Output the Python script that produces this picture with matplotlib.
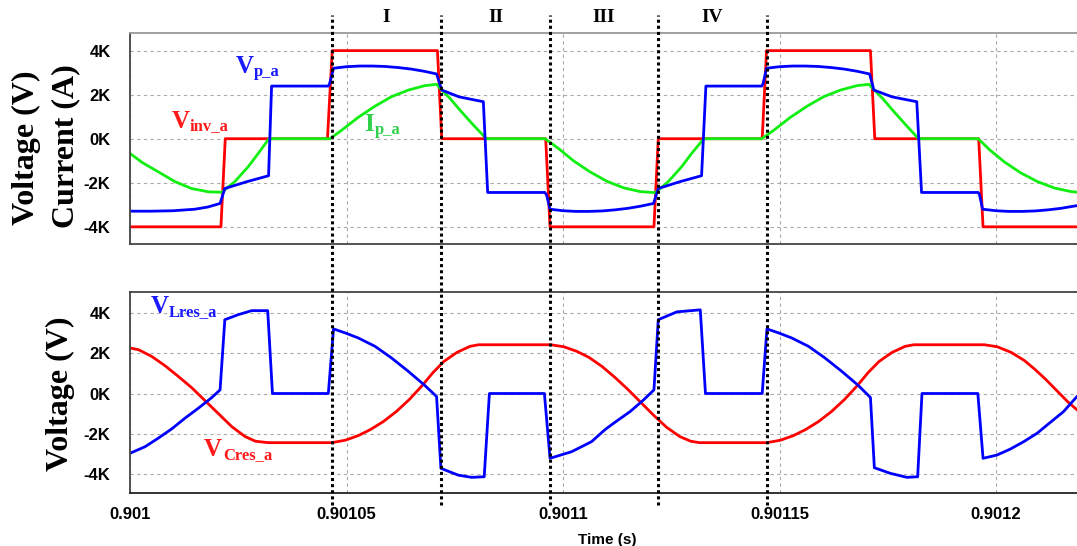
import numpy as np
import matplotlib
matplotlib.use("Agg")
from matplotlib import pyplot as plt
from matplotlib import transforms
from matplotlib.lines import Line2D
from matplotlib.ticker import FixedLocator, FuncFormatter

T0 = 0.901  # s, start of the window; all times below are in microseconds after T0

# inverter output voltage, phase a (kV)
vinv_us = [0, 21.0, 22.0, 45.6, 46.7, 71.0, 72.0, 96.0, 97.0, 121.0, 122.0,
           146.0, 147.0, 171.0, 172.0, 196.0, 197.0, 220.0]
vinv_kv = [-4, -4, 0, 0, 4, 4, 0, 0, -4, -4, 0, 0, 4, 4, 0, 0, -4, -4]

# primary voltage (kV)
vp_us = [0, 5, 10, 15, 18, 20.8, 21.9, 27, 32.0, 32.7, 45.8, 46.1, 47.0, 50, 53, 56,
         59, 62, 65, 68, 70.8, 72.0, 76, 81.6, 82.6, 95.8, 96.2, 97.0, 100, 103, 106,
         109, 112, 115, 118, 120.9, 122.0, 127, 132.0, 133.0, 145.9, 146.2, 147.0,
         150, 153, 156, 159, 162, 165, 168, 170.8, 171.8, 176, 181.7, 182.8, 195.9,
         196.2, 196.9, 200, 203, 206, 209, 212, 215, 218, 220]
vp_kv = [-3.29, -3.29, -3.27, -3.2, -3.1, -2.94, -2.26, -1.95, -1.68, 2.39, 2.39,
         2.5, 3.2, 3.27, 3.3, 3.3, 3.28, 3.23, 3.16, 3.06, 2.94, 2.21, 1.9, 1.68,
         -2.44, -2.44, -2.55, -3.2, -3.27, -3.3, -3.3, -3.28, -3.23, -3.16, -3.06,
         -2.94, -2.26, -1.95, -1.68, 2.39, 2.39, 2.5, 3.2, 3.27, 3.3, 3.3, 3.28,
         3.23, 3.16, 3.06, 2.94, 2.21, 1.9, 1.68, -2.44, -2.44, -2.55, -3.2, -3.27,
         -3.3, -3.3, -3.28, -3.23, -3.16, -3.06, -3.0]

# primary current (kA)
ip_us = [0, 2.9, 6.5, 10.4, 14.2, 18.1, 21.2, 24.2, 27.3, 29.6, 32.1, 46.2, 48.9,
         52.7, 56.6, 60.4, 64.3, 68.1, 70.8, 71.6, 73.9, 76.2, 79.3, 82.3, 95.9,
         99.0, 102.4, 106.2, 110.1, 114.0, 117.8, 121.3, 124.3, 127.4, 129.7, 132.5,
         145.9, 148.7, 152.5, 156.4, 160.2, 164.1, 167.9, 170.6, 171.5, 173.8,
         176.1, 179.2, 182.1, 195.9, 198.5, 201.9, 205.7, 209.6, 213.5, 217.3, 220]
ip_ka = [-0.67, -1.09, -1.5, -1.95, -2.26, -2.41, -2.43, -1.95, -1.27, -0.67, 0, 0,
         0.39, 0.97, 1.48, 1.91, 2.21, 2.41, 2.47, 2.29, 1.83, 1.3, 0.62, 0, 0,
         -0.45, -1.0, -1.5, -1.93, -2.23, -2.4, -2.45, -1.95, -1.27, -0.67, 0, 0,
         0.39, 0.97, 1.48, 1.91, 2.21, 2.41, 2.47, 2.29, 1.83, 1.3, 0.62, 0, 0,
         -0.5, -1.05, -1.55, -1.95, -2.24, -2.4, -2.45]

# resonant capacitor voltage (kV)
vc_us = [0, 2, 5, 8, 11, 14.2, 17.3, 20.4, 23.5, 26.6, 29, 31.9, 46.6, 49.7, 52.7,
         55.5, 58.5, 61.5, 64.5, 67.5, 70, 72.5, 75.5, 78.5, 80.5, 97.2, 100.2,
         103.2, 106, 109, 112, 115, 118, 121, 124, 127, 129.5, 131.5, 147.1, 150.2,
         153.2, 156, 159, 162, 165, 168, 170.5, 173, 176, 179, 181, 197.3, 200.3,
         203.5, 206.5, 209, 211.5, 214, 216.5, 219, 220]
vc_kv = [2.27, 2.18, 1.85, 1.4, 0.88, 0.3, -0.35, -1.0, -1.65, -2.15, -2.38, -2.45,
         -2.45, -2.33, -2.1, -1.8, -1.4, -0.9, -0.3, 0.4, 1.05, 1.6, 2.05, 2.35, 2.43,
         2.43, 2.33, 2.1, 1.8, 1.35, 0.8, 0.2, -0.45, -1.1, -1.7, -2.15, -2.38, -2.45,
         -2.45, -2.33, -2.1, -1.8, -1.4, -0.9, -0.3, 0.4, 1.05, 1.6, 2.05, 2.35, 2.43,
         2.43, 2.33, 2.05, 1.65, 1.2, 0.7, 0.15, -0.4, -0.87, -1.0]

# resonant inductor voltage (kV)
vl_us = [0, 3.5, 6.5, 9.6, 12.7, 15.8, 18.9, 20.8, 21.9, 25.0, 28.1, 31.8, 32.9,
         45.8, 47.0, 49.7, 52.7, 56.6, 60.4, 64.3, 68.1, 70.8, 71.8, 75.8, 78.9,
         81.8, 83.0, 95.7, 97.0, 102.0, 106.6, 109.7, 111.7, 115.5, 118.6, 121.0,
         122.0, 126.3, 131.7, 132.9, 146.0, 147.1, 149.8, 152.8, 156.7, 160.5,
         164.4, 168.2, 171.0, 171.9, 175.6, 179.4, 181.9, 182.9, 195.8, 197.0,
         200.2, 203.3, 206.4, 209.5, 211.8, 215.6, 218.7, 220]
vl_kv = [-2.98, -2.65, -2.23, -1.77, -1.23, -0.73, -0.2, 0.18, 3.68, 3.93, 4.13,
         4.13, 0, 0, 3.22, 3.02, 2.77, 2.35, 1.77, 1.1, 0.4, -0.15, -3.73, -4.07,
         -4.18, -4.15, 0, 0, -3.23, -2.9, -2.4, -1.8, -1.48, -0.9, -0.32, 0.18, 3.68,
         4.07, 4.17, 0, 0, 3.22, 3.02, 2.77, 2.35, 1.77, 1.1, 0.4, -0.2, -3.7, -3.98,
         -4.18, -4.15, 0, 0, -3.23, -3.07, -2.77, -2.4, -1.98, -1.57, -0.9, -0.15,
         0.05]

# interval boundaries (us) and their names
bound_us = [46.65, 71.8, 97.0, 121.9, 147.1]
interval_names = ["I", "II", "III", "IV"]

xticks = [0.901, 0.90105, 0.9011, 0.90115, 0.9012]
xtick_labels = ["0.901", "0.90105", "0.9011", "0.90115", "0.9012"]
yticks = [-4, -2, 0, 2, 4]

RED = "#ff0000"
BLUE = "#0000ff"
GREEN = "#11ee11"
SERIF = "Liberation Serif"
SANS = "Liberation Sans"

W, H = 1077, 546


def t(us):
    return T0 + np.array(us) * 1e-6


def fx(px):
    return px / W


def fy(py):
    return 1 - py / H


fig = plt.figure(figsize=(W / 100, H / 100), dpi=100)
ax1 = fig.add_axes([fx(130), fy(244), 1 - fx(130), (244 - 33) / H])
ax2 = fig.add_axes([fx(130), fy(493), 1 - fx(130), (493 - 292) / H])

ax1.plot(t(vinv_us), vinv_kv, color=RED, lw=2.0)
ax1.plot(t(ip_us), ip_ka, color=GREEN, lw=2.0)
ax1.plot(t(vp_us), vp_kv, color=BLUE, lw=2.0)

ax2.plot(t(vc_us), vc_kv, color=RED, lw=2.0)
ax2.plot(t(vl_us), vl_kv, color=BLUE, lw=2.0)

ax1.set_ylim(-4.78, 4.8)
ax2.set_ylim(-4.96, 5.06)

for ax in (ax1, ax2):
    ax.set_xlim(T0, T0 + 218.7e-6)
    ax.xaxis.set_major_locator(FixedLocator(xticks))
    ax.yaxis.set_major_locator(FixedLocator(yticks))
    ax.yaxis.set_major_formatter(FuncFormatter(lambda v, p: "%dK" % round(v)))
    ax.grid(True, color="#aaaaaa", lw=0.8, ls=(0, (3, 3)))
    ax.set_axisbelow(True)
    ax.tick_params(length=0, pad=14)
    for lab in ax.get_yticklabels():
        lab.set_fontfamily(SANS)
        lab.set_fontweight("bold")
        lab.set_fontsize(12)
    ax.spines["right"].set_visible(False)
    for s in ("left", "bottom", "top"):
        ax.spines[s].set_linewidth(1.3)
        ax.spines[s].set_color("#444444")

ax1.spines["top"].set_color("#999999")
ax1.set_xticklabels([])
ax2.set_xticklabels(xtick_labels, fontfamily=SANS, fontweight="bold", fontsize=12)
ax2.tick_params(axis="x", pad=10)
ax2.spines["bottom"].set_color("#222222")

# interval boundaries running through both panels
trans = transforms.blended_transform_factory(ax1.transData, fig.transFigure)
bt = t(bound_us)
for b in bt:
    fig.add_artist(Line2D([b, b], [fy(505), fy(15)], transform=trans,
                          color="black", lw=2.2, ls=(0, (1, 1)), clip_on=False))
for i, name in enumerate(interval_names):
    fig.text((bt[i] + bt[i + 1]) / 2, fy(17), name, transform=trans,
             ha="center", va="center", fontfamily=SERIF, fontweight="bold",
             fontsize=14)

# axis titles
fig.text(fx(26), fy(148), "Voltage (V)", rotation=90, ha="center", va="center",
         fontfamily=SERIF, fontweight="bold", fontsize=23)
fig.text(fx(66), fy(146), "Current (A)", rotation=90, ha="center", va="center",
         fontfamily=SERIF, fontweight="bold", fontsize=23)
fig.text(fx(60), fy(394), "Voltage (V)", rotation=90, ha="center", va="center",
         fontfamily=SERIF, fontweight="bold", fontsize=23)
fig.text(fx(607), fy(540), "Time (s)", ha="center", va="center",
         fontfamily=SANS, fontweight="bold", fontsize=11)


def signal_label(x, y, sx, sy, main, sub, color):
    fig.text(fx(x), fy(y), main, ha="left", va="baseline", color=color,
             fontfamily=SERIF, fontweight="bold", fontsize=18)
    fig.text(fx(sx), fy(sy), sub, ha="left", va="baseline", color=color,
             fontfamily=SERIF, fontweight="bold", fontsize=12)


signal_label(236, 73, 254, 76, "V", "p_a", "#1a1aff")
signal_label(172, 128, 190, 130, "V", "inv_a", "#ff1a1a")
signal_label(364, 131, 375, 134, "I", "p_a", "#2fd14a")
signal_label(151, 313, 169, 316, "V", "Lres_a", "#1a1aff")
signal_label(204, 456, 223, 459, "V", "Cres_a", "#ff1a1a")

fig.savefig("out.png", dpi=100)
